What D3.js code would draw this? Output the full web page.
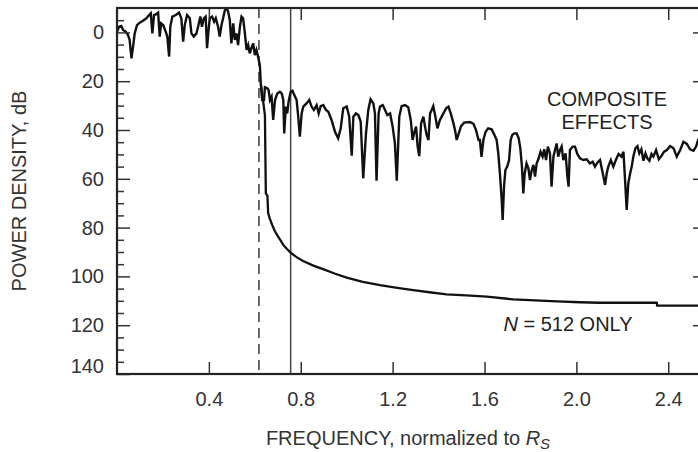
<!DOCTYPE html>
<html>
<head>
<meta charset="utf-8">
<script src="https://cdn.jsdelivr.net/npm/d3@7"></script>
<style>
  body { margin: 0; background: #fff; }
  svg { display: block; font-family: "Liberation Sans", Arial, sans-serif; }
</style>
</head>
<body>
<div id="chart"></div>
<script>
// composite effects curve (frequency / R_S, dB)
const compFreq = [
  0.0, 0.009, 0.019, 0.026, 0.038, 0.048, 0.055, 0.063, 0.070, 0.077, 0.087, 0.099, 0.113, 0.128, 0.140, 0.147,
  0.154, 0.161, 0.171, 0.179, 0.186, 0.192, 0.201, 0.212, 0.219, 0.227, 0.232, 0.241, 0.256, 0.270, 0.280, 0.288,
  0.295, 0.305, 0.317, 0.324, 0.334, 0.346, 0.353, 0.363, 0.370, 0.378, 0.386, 0.392, 0.398, 0.404, 0.414, 0.423,
  0.430, 0.440, 0.447, 0.455, 0.462, 0.469, 0.477, 0.484, 0.491, 0.498, 0.506, 0.513, 0.520, 0.527, 0.535, 0.542,
  0.549, 0.556, 0.564, 0.571, 0.578, 0.585, 0.593, 0.600, 0.607, 0.614, 0.622, 0.626, 0.632, 0.640, 0.644, 0.654,
  0.660, 0.666, 0.673, 0.680, 0.688, 0.698, 0.709, 0.717, 0.724, 0.728, 0.735, 0.741, 0.747, 0.756, 0.764, 0.772,
  0.782, 0.789, 0.796, 0.804, 0.811, 0.825, 0.837, 0.847, 0.857, 0.869, 0.878, 0.887, 0.898, 0.910, 0.920, 0.934,
  0.949, 0.963, 0.974, 0.985, 1.000, 1.011, 1.022, 1.029, 1.040, 1.051, 1.061, 1.072, 1.084, 1.094, 1.104, 1.116,
  1.123, 1.130, 1.139, 1.145, 1.157, 1.167, 1.177, 1.189, 1.200, 1.210, 1.218, 1.229, 1.239, 1.254, 1.268, 1.279,
  1.287, 1.293, 1.302, 1.309, 1.316, 1.324, 1.334, 1.341, 1.348, 1.356, 1.363, 1.370, 1.377, 1.386, 1.395, 1.406,
  1.421, 1.433, 1.443, 1.453, 1.465, 1.473, 1.479, 1.488, 1.497, 1.511, 1.537, 1.552, 1.563, 1.574, 1.580, 1.587,
  1.595, 1.605, 1.616, 1.631, 1.643, 1.653, 1.660, 1.667, 1.675, 1.679, 1.685, 1.691, 1.699, 1.707, 1.714, 1.721,
  1.730, 1.740, 1.749, 1.756, 1.763, 1.769, 1.775, 1.783, 1.791, 1.798, 1.805, 1.813, 1.820, 1.827, 1.836, 1.844,
  1.853, 1.860, 1.868, 1.876, 1.885, 1.892, 1.900, 1.907, 1.914, 1.921, 1.929, 1.936, 1.943, 1.953, 1.961, 1.966,
  1.972, 1.984, 1.994, 2.004, 2.016, 2.030, 2.045, 2.059, 2.071, 2.081, 2.091, 2.103, 2.115, 2.125, 2.132, 2.139,
  2.150, 2.161, 2.173, 2.184, 2.196, 2.205, 2.212, 2.219, 2.226, 2.234, 2.241, 2.248, 2.257, 2.266, 2.274, 2.283,
  2.292, 2.301, 2.309, 2.318, 2.327, 2.335, 2.347, 2.359, 2.370, 2.382, 2.394, 2.408, 2.423, 2.437, 2.452, 2.466,
  2.481, 2.495, 2.510, 2.521, 2.530, 2.560
]
const compDb = [
  -0.3, -2.3, -2.6, -1.0, -0.3, 1.1, 3.1, 10.6, 5.8, 0.4, -3.0, -4.0, -4.8, -5.8, -7.1, -7.8,
  0.4, -7.1, -7.5, -8.1, 1.7, -3.7, -3.0, -0.3, 1.7, 9.9, -2.3, -6.5, -7.1, -8.1, -5.8, 3.8,
  -3.0, -7.1, -5.8, 0.4, 1.7, 0.4, -2.3, -6.5, -2.3, -5.8, -6.5, 6.5, -0.3, -5.8, -6.5, -4.4,
  -5.8, -2.3, 1.7, -3.0, -5.8, -8.9, -10.0, -8.5, -5.1, 4.5, -3.7, 3.1, 0.4, 5.2, -2.3, -6.5,
  -5.8, -0.3, 7.2, 5.2, 8.6, 6.5, 4.5, 9.3, 7.2, 9.9, 13.4, 20.9, 27.7, 27.7, 22.5, 22.9,
  23.6, 27.7, 26.3, 35.9, 27.7, 25.0, 24.3, 25.0, 27.7, 41.4, 30.4, 33.2, 28.4, 24.3, 23.9, 25.7,
  27.7, 34.5, 42.7, 33.2, 30.4, 29.1, 27.7, 30.4, 31.8, 29.8, 33.2, 30.2, 29.8, 31.8, 32.5, 35.9,
  40.7, 43.4, 39.3, 31.1, 30.4, 34.5, 50.5, 34.5, 33.2, 33.9, 36.6, 59.8, 41.4, 31.8, 27.4, 29.1,
  33.2, 60.8, 33.2, 30.4, 29.8, 31.8, 33.9, 33.2, 38.6, 45.5, 60.8, 34.5, 30.2, 29.8, 30.7, 35.9,
  44.1, 41.4, 38.6, 46.8, 50.7, 37.3, 34.5, 38.6, 42.0, 44.1, 33.2, 31.8, 30.2, 34.5, 39.3, 35.9,
  33.2, 31.1, 30.4, 33.2, 37.3, 40.7, 44.1, 41.4, 38.6, 37.0, 36.7, 37.5, 40.0, 44.1, 44.1, 51.0,
  44.1, 40.7, 39.3, 39.7, 42.0, 44.1, 49.6, 57.8, 68.7, 76.9, 63.2, 56.4, 55.0, 52.3, 44.1, 42.0,
  41.4, 41.4, 43.4, 47.5, 55.0, 66.0, 57.8, 53.7, 55.7, 60.5, 56.7, 54.3, 59.1, 53.7, 51.6, 48.9,
  50.9, 47.9, 52.3, 46.8, 49.6, 63.2, 50.9, 48.2, 45.5, 50.9, 48.2, 46.8, 52.3, 49.6, 59.1, 63.2,
  48.2, 46.8, 46.8, 49.8, 51.6, 52.3, 52.0, 53.7, 53.0, 55.0, 53.4, 52.3, 57.8, 62.5, 57.8, 55.0,
  52.3, 55.0, 52.0, 49.8, 50.9, 48.9, 60.5, 72.8, 61.9, 57.8, 55.0, 50.9, 47.5, 46.6, 49.6, 47.9,
  52.6, 49.6, 51.6, 52.6, 49.8, 50.9, 48.2, 52.0, 50.7, 48.9, 48.2, 46.6, 47.5, 50.9, 48.2, 44.8,
  45.7, 47.9, 48.5, 46.8, 44.1, 45.0
]

// N = 512 only curve
const n512Freq = [
  0.626, 0.636, 0.644, 0.646, 0.648, 0.655, 0.658, 0.666, 0.676, 0.687, 0.700, 0.712, 0.723, 0.740, 0.756,
  0.780, 0.810, 0.855, 0.897, 0.950, 1.000, 1.070, 1.145, 1.220, 1.290, 1.360, 1.435, 1.520, 1.610, 1.725,
  1.820, 1.915, 2.017, 2.100, 2.350, 2.352, 2.560
]
const n512Db = [
  21, 28, 34, 50, 66, 67, 74, 76.5, 79, 81.4, 83.5, 85.2, 87, 88.8, 90.3,
  92.0, 93.7, 95.6, 97, 98.9, 100.5, 102.2, 103.6, 104.7, 105.6, 106.5, 107.4, 107.8, 108.3, 109.4,
  109.8, 110.2, 110.6, 110.8, 110.8, 112, 112
]

const xTicks = [0.4, 0.8, 1.2, 1.6, 2.0, 2.4]
const yTicks = [0, 20, 40, 60, 80, 100, 120, 140]
const markerFreqs = [0.618, 0.756]   // dashed, solid

const MARGIN = { TOP: 8, LEFT: 117 }
const WIDTH = 588
const HEIGHT = 366
const FONT = 20

const svg = d3.select("#chart").append("svg")
  .attr("width", 698)
  .attr("height", 452)

const g = svg.append("g")
  .attr("transform", `translate(${MARGIN.LEFT}, ${MARGIN.TOP})`)

const x = d3.scaleLinear().domain([0, 2.56]).range([0, WIDTH])
const y = d3.scaleLinear().domain([-10, 140]).range([0, HEIGHT])

g.append("clipPath").attr("id", "plot")
  .append("rect").attr("width", WIDTH).attr("height", HEIGHT)

// marker lines
g.append("line")
  .attr("x1", x(markerFreqs[0])).attr("x2", x(markerFreqs[0]))
  .attr("y1", 0).attr("y2", HEIGHT)
  .attr("stroke", "#444").attr("stroke-width", 1.6)
  .attr("stroke-dasharray", "10,6")
g.append("line")
  .attr("x1", x(markerFreqs[1])).attr("x2", x(markerFreqs[1]))
  .attr("y1", 0).attr("y2", HEIGHT)
  .attr("stroke", "#444").attr("stroke-width", 1.5)

const line = d3.line()
  .x(d => x(d[0]))
  .y(d => y(d[1]))

const comp = compFreq.map((f, i) => [f, compDb[i]])
const n512 = n512Freq.map((f, i) => [f, n512Db[i]])

g.append("path")
  .datum(n512)
  .attr("clip-path", "url(#plot)")
  .attr("fill", "none")
  .attr("stroke", "#111")
  .attr("stroke-width", 2.3)
  .attr("d", line)

g.append("path")
  .datum(comp)
  .attr("clip-path", "url(#plot)")
  .attr("fill", "none")
  .attr("stroke", "#111")
  .attr("stroke-width", 2.4)
  .attr("d", line)

// axes, all ticks inward
const axisStyle = sel => {
  sel.select(".domain").remove()
  sel.selectAll(".tick line").attr("stroke", "#333").attr("stroke-width", 1.5)
  sel.selectAll("text")
    .attr("fill", "#333")
    .style("font-size", FONT + "px")
}

g.append("g")
  .attr("transform", `translate(0, ${HEIGHT})`)
  .call(d3.axisBottom(x).tickValues(xTicks).tickSize(-12).tickPadding(18).tickFormat(d3.format(".1f")))
  .call(axisStyle)

g.append("g")
  .call(d3.axisTop(x).tickValues(xTicks).tickSize(-12).tickFormat(""))
  .call(axisStyle)

g.append("g")
  .call(d3.axisLeft(y).tickValues(d3.range(-5, 140, 5).filter(v => v % 20 !== 0)).tickSize(-7).tickFormat(""))
  .call(axisStyle)

const yAxis = g.append("g")
  .call(d3.axisLeft(y).tickValues(yTicks).tickSize(-13).tickPadding(13))
  .call(axisStyle)
yAxis.selectAll(".tick").filter(d => d === 140).select("text").attr("y", -8)

g.append("g")
  .attr("transform", `translate(${WIDTH}, 0)`)
  .call(d3.axisRight(y).tickValues(yTicks.slice(0, -1)).tickSize(-12).tickFormat(""))
  .call(axisStyle)

// frame
g.append("rect")
  .attr("width", WIDTH).attr("height", HEIGHT)
  .attr("fill", "none")
  .attr("stroke", "#222")
  .attr("stroke-width", 2.2)

// axis titles
svg.append("text")
  .attr("x", 408)
  .attr("y", 445)
  .attr("text-anchor", "middle")
  .attr("fill", "#333")
  .style("font-size", FONT + "px")
  .call(t => {
    t.append("tspan").text("FREQUENCY, normalized to ")
    t.append("tspan").style("font-style", "italic").text("R")
    t.append("tspan").style("font-style", "italic").style("font-size", "15px").attr("dy", 3.5).text("S")
  })

svg.append("text")
  .attr("transform", `translate(26, ${MARGIN.TOP + HEIGHT / 2}) rotate(-90)`)
  .attr("text-anchor", "middle")
  .attr("fill", "#333")
  .style("font-size", FONT + "px")
  .text("POWER DENSITY, dB")

// curve labels
const notes = svg.append("g")
  .attr("fill", "#222")
  .style("font-size", FONT + "px")
  .attr("text-anchor", "middle")

notes.append("text").attr("x", 607).attr("y", 106).text("COMPOSITE")
notes.append("text").attr("x", 607).attr("y", 129).text("EFFECTS")

notes.append("text")
  .attr("x", 568).attr("y", 331)
  .call(t => {
    t.append("tspan").style("font-style", "italic").text("N")
    t.append("tspan").text(" = 512 ONLY")
  })
</script>
</body>
</html>
